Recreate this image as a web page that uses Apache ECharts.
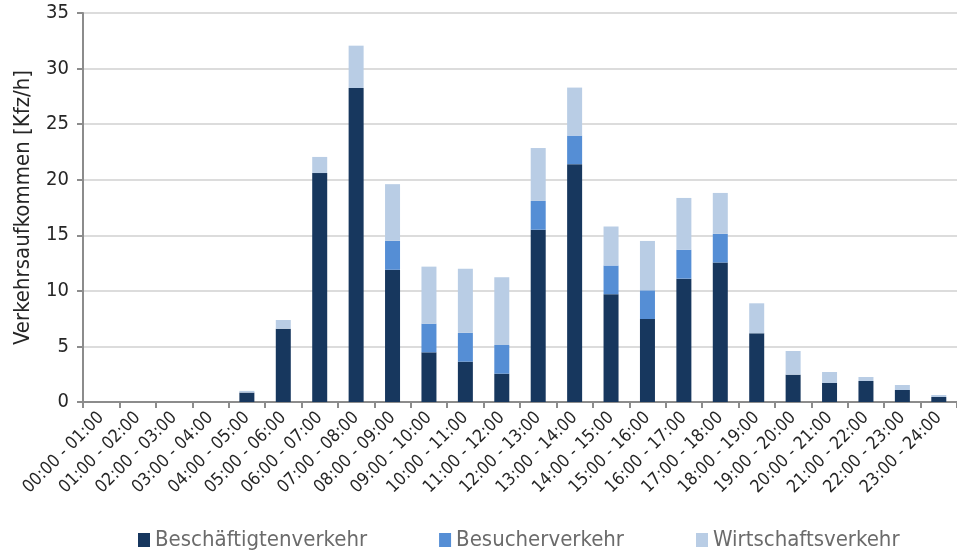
<!DOCTYPE html>
<html>
<head>
<meta charset="utf-8">
<script src="https://cdn.jsdelivr.net/npm/echarts@6/dist/echarts.min.js"></script>
<style>
  html, body { margin: 0; padding: 0; background: #fff; }
  #chart { width: 957px; height: 558px; }
</style>
</head>
<body>
<div id="chart"></div>
<script>
// Stunden des Tages
const hours = [
  '00:00 - 01:00', '01:00 - 02:00', '02:00 - 03:00', '03:00 - 04:00',
  '04:00 - 05:00', '05:00 - 06:00', '06:00 - 07:00', '07:00 - 08:00',
  '08:00 - 09:00', '09:00 - 10:00', '10:00 - 11:00', '11:00 - 12:00',
  '12:00 - 13:00', '13:00 - 14:00', '14:00 - 15:00', '15:00 - 16:00',
  '16:00 - 17:00', '17:00 - 18:00', '18:00 - 19:00', '19:00 - 20:00',
  '20:00 - 21:00', '21:00 - 22:00', '22:00 - 23:00', '23:00 - 24:00'
]

// Kfz/h je Verkehrsart
const beschaeftigte = [0, 0, 0, 0, 0.85, 6.6, 20.6, 28.25, 11.9, 4.47, 3.63, 2.55,
  15.5, 21.4, 9.7, 7.47, 11.1, 12.55, 6.18, 2.46, 1.71, 1.89, 1.08, 0.45]
const besucher = [0, 0, 0, 0, 0, 0, 0, 0, 2.6, 2.58, 2.6, 2.58,
  2.59, 2.57, 2.58, 2.58, 2.6, 2.58, 0, 0, 0, 0, 0, 0]
const wirtschaft = [0, 0, 0, 0, 0.15, 0.78, 1.45, 3.81, 5.1, 5.13, 5.76, 6.09,
  4.76, 4.32, 3.51, 4.44, 4.66, 3.68, 2.7, 2.13, 0.99, 0.36, 0.45, 0.18]

const yTicks = { min: 0, max: 35, interval: 5 }
const seriesNames = ['Beschäftigtenverkehr', 'Besucherverkehr', 'Wirtschaftsverkehr']
const colors = ['#17375e', '#558ed5', '#b9cde5']

const FONT = '"DejaVu Sans Condensed", sans-serif'

const chart = echarts.init(document.getElementById('chart'))

const makeSeries = (name, data, color) => ({
  name,
  type: 'bar',
  stack: 'total',
  barWidth: 15,
  data,
  itemStyle: { color },
  emphasis: { disabled: true }
})

chart.setOption({
  animation: false,
  color: colors,
  textStyle: { fontFamily: FONT },
  grid: {
    left: 83,
    right: -6,
    top: 13,
    bottom: 156,
    containLabel: false
  },
  legend: {
    bottom: 2,
    left: 133,
    itemWidth: 12,
    itemHeight: 14,
    itemGap: 72,
    icon: 'rect',
    textStyle: { fontSize: 22, color: '#6b6b6b', fontFamily: FONT },
    data: seriesNames
  },
  xAxis: {
    type: 'category',
    data: hours,
    axisLine: { lineStyle: { color: '#8c8c8c', width: 2 } },
    axisTick: { show: true, length: 6, lineStyle: { color: '#8c8c8c', width: 2 } },
    axisLabel: {
      rotate: 45,
      interval: 0,
      fontSize: 17.5,
      color: '#262626',
      margin: 13,
      fontFamily: FONT
    }
  },
  yAxis: {
    type: 'value',
    min: yTicks.min,
    max: yTicks.max,
    interval: yTicks.interval,
    name: 'Verkehrsaufkommen [Kfz/h]',
    nameLocation: 'middle',
    nameGap: 49,
    nameTextStyle: { fontSize: 22, color: '#262626', fontFamily: FONT },
    axisLine: { show: true, lineStyle: { color: '#8c8c8c', width: 2 } },
    axisTick: { show: true, length: 6, lineStyle: { color: '#8c8c8c', width: 2 } },
    axisLabel: { fontSize: 20, color: '#262626', margin: 14, fontFamily: FONT },
    splitLine: { lineStyle: { color: '#d0d0d0', width: 1.5 } }
  },
  series: [
    makeSeries(seriesNames[0], beschaeftigte, colors[0]),
    makeSeries(seriesNames[1], besucher, colors[1]),
    makeSeries(seriesNames[2], wirtschaft, colors[2])
  ]
})
</script>
</body>
</html>
